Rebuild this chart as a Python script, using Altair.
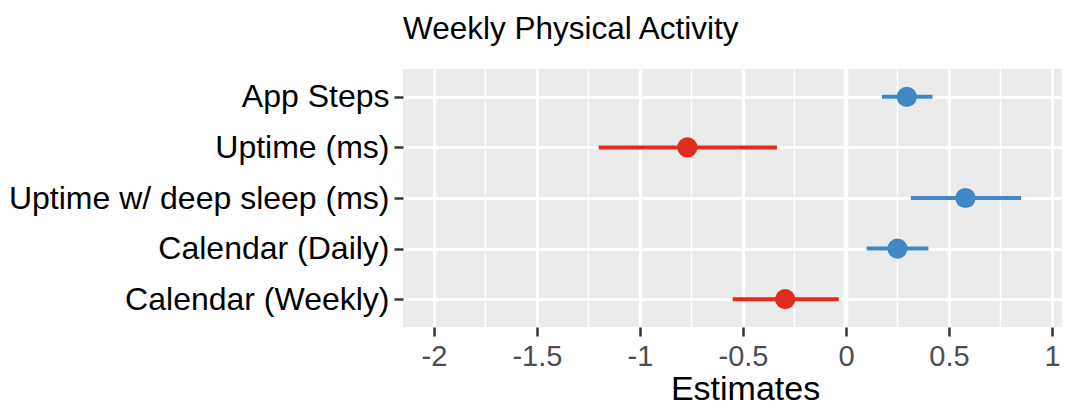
import altair as alt
import pandas as pd

terms = ["App Steps", "Uptime (ms)", "Uptime w/ deep sleep (ms)", "Calendar (Daily)", "Calendar (Weekly)"]
estimates = [0.295, -0.77, 0.58, 0.25, -0.295]
ci_low = [0.175, -1.20, 0.315, 0.10, -0.55]
ci_high = [0.42, -0.335, 0.85, 0.40, -0.035]
effect = ["positive", "negative", "positive", "positive", "negative"]

x_ticks = [-2, -1.5, -1, -0.5, 0, 0.5, 1]
minor_breaks = [-1.75, -1.25, -0.75, -0.25, 0.25, 0.75]
ref_line = [0]

df = pd.DataFrame({"term": terms, "estimate": estimates, "low": ci_low,
                   "high": ci_high, "effect": effect})
minor_df = pd.DataFrame({"m": minor_breaks})
ref_df = pd.DataFrame({"r": ref_line})

xdomain = [-2.150, 1.0485]
xscale = alt.Scale(domain=xdomain, nice=False, zero=False)
yscale = alt.Scale(type="point", domain=terms, padding=0.55)
color = alt.Color("effect:N", scale=alt.Scale(domain=["positive", "negative"],
                                              range=["#3F88C5", "#E12B1D"]), legend=None)

minor = alt.Chart(minor_df).mark_rule(color="white", strokeWidth=1.5).encode(
    x=alt.X("m:Q", scale=xscale)
)
zero = alt.Chart(ref_df).mark_rule(color="white", strokeWidth=4.5).encode(
    x=alt.X("r:Q", scale=xscale)
)

bars = alt.Chart(df).mark_rule(strokeWidth=4).encode(
    x=alt.X("low:Q", scale=xscale,
            axis=alt.Axis(values=x_ticks, title="Estimates", labelExpr="datum.value + ''",
                          grid=True, gridColor="white", gridWidth=3,
                          tickSize=9, tickColor="#333333", tickWidth=2.5,
                          labelFontSize=29, labelColor="#4D4D4D", labelPadding=6,
                          titleFontSize=34, titleColor="black", titleFontWeight="normal",
                          titleX=342, titleY=72, titleBaseline="alphabetic",
                          domain=False)),
    x2="high:Q",
    y=alt.Y("term:N", scale=yscale, sort=terms,
            axis=alt.Axis(title=None, grid=True, gridColor="white", gridWidth=3,
                          tickSize=9, tickColor="#333333", tickWidth=2.5,
                          labelFontSize=32, labelColor="black", labelPadding=5,
                          labelLimit=800, domain=False)),
    color=color,
)

points = alt.Chart(df).mark_point(filled=True, opacity=1, size=410).encode(
    x=alt.X("estimate:Q", scale=xscale),
    y=alt.Y("term:N", scale=yscale, sort=terms),
    color=color,
)

chart = alt.layer(minor, zero, bars, points).properties(
    width=659, height=258,
    title=alt.TitleParams("Weekly Physical Activity", anchor="start", frame="group",
                          fontSize=31.5, fontWeight="normal", color="black", offset=21),
    autosize=alt.AutoSizeParams(type="none"),
    padding={"left": 395, "top": 61, "right": 0, "bottom": 78},
).configure(
    font="Liberation Sans",
    view=alt.ViewConfig(fill="#EBEBEB", stroke=None),
)

chart.save("out.html", embed_options={"renderer": "svg", "actions": False})
